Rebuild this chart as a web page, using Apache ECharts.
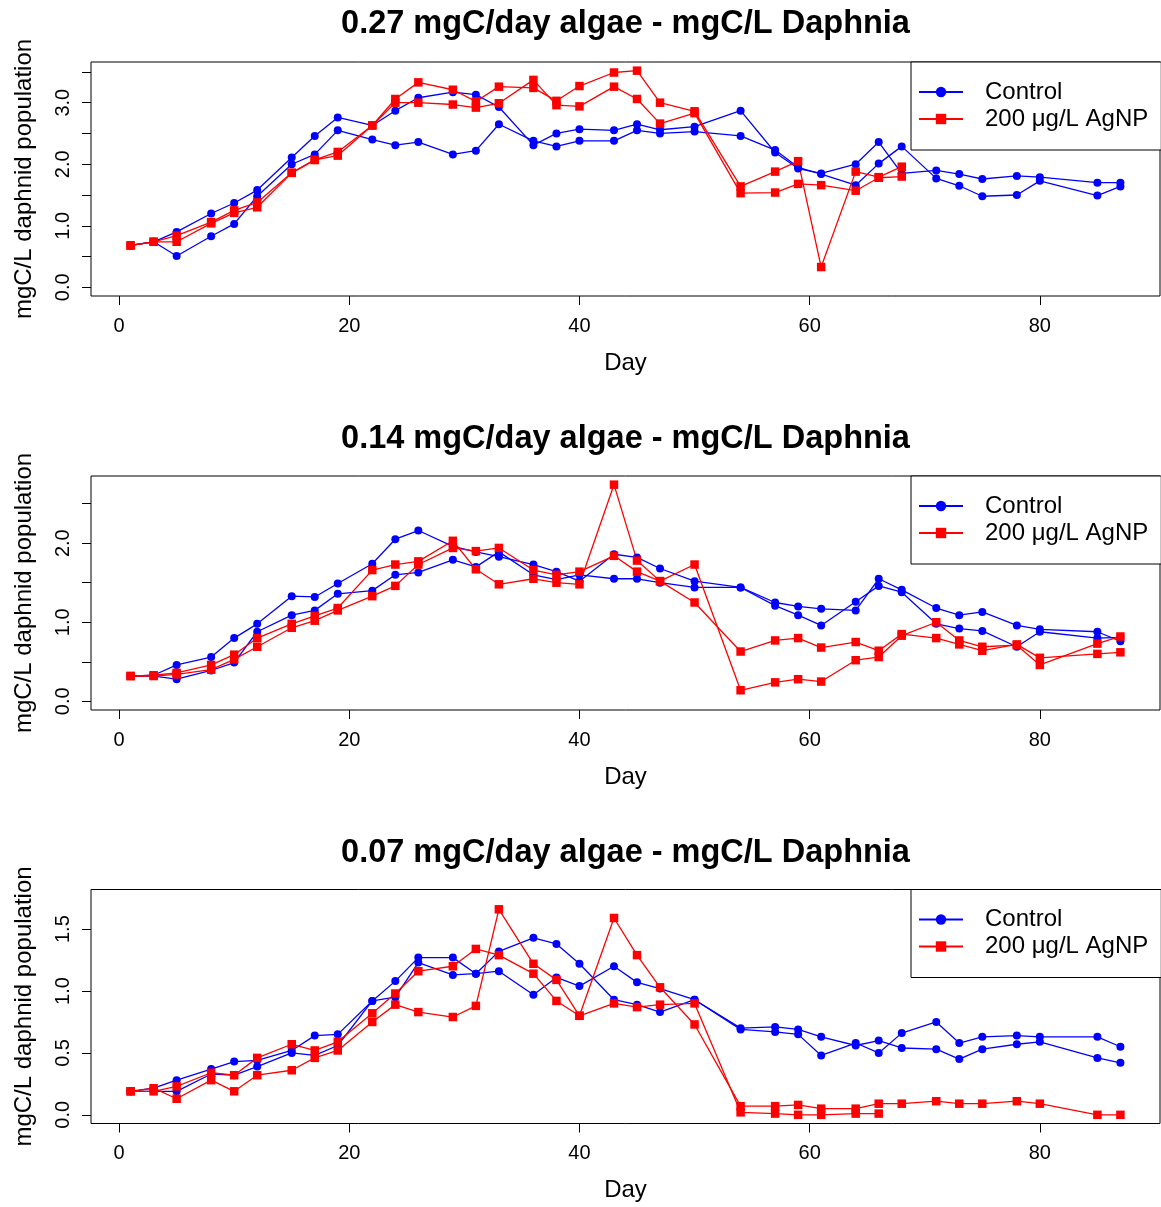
<!DOCTYPE html>
<html>
<head>
<meta charset="utf-8">
<script src="https://cdn.jsdelivr.net/npm/echarts@6/dist/echarts.min.js"></script>
<style>
  html, body { margin: 0; padding: 0; background: #fff; }
  #chart { width: 1161px; height: 1207px; }
</style>
</head>
<body>
<div id="chart"></div>
<script>
// Sampling days (experiment day)
const days = [1,3,5,8,10,12,15,17,19,22,24,26,29,31,33,36,38,40,43,45,47,50,54,57,59,61,64,66,68,71,73,75,78,80,85,87];

// 0.27 mgC/day algae — two replicate populations per treatment
const ctrl27a = [0.68,0.74,0.90,1.20,1.37,1.58,2.11,2.46,2.76,2.63,2.87,3.08,3.17,3.13,2.93,2.31,2.50,2.57,2.55,2.65,2.56,2.61,2.87,2.19,1.93,1.85,2.00,2.36,1.85,1.90,1.84,1.76,1.81,1.79,1.70,1.70];
const ctrl27b = [0.68,0.74,0.51,0.83,1.03,1.48,2.00,2.16,2.55,2.40,2.31,2.36,2.16,2.22,2.65,2.38,2.29,2.38,2.38,2.55,2.50,2.53,2.46,2.23,1.95,1.84,1.66,2.01,2.29,1.77,1.65,1.48,1.50,1.73,1.49,1.64];
const agnp27a = [0.68,0.74,0.84,1.06,1.25,1.38,1.86,2.07,2.20,2.63,3.06,3.33,3.21,3.02,3.26,3.24,3.03,3.27,3.49,3.52,3.00,2.86,1.64,1.88,2.05,0.33,1.88,1.79,1.96];
const agnp27b = [0.68,0.74,0.74,1.04,1.21,1.30,1.86,2.07,2.14,2.63,3.00,3.00,2.97,2.92,2.99,3.37,2.96,2.94,3.26,3.06,2.66,2.83,1.53,1.54,1.68,1.66,1.57,1.78,1.80];

// 0.14 mgC/day algae
const ctrl14a = [0.32,0.33,0.46,0.56,0.80,0.98,1.33,1.32,1.49,1.74,2.05,2.16,1.96,1.89,1.83,1.73,1.64,1.52,1.86,1.82,1.68,1.52,1.44,1.25,1.20,1.17,1.15,1.55,1.41,1.18,1.09,1.13,0.96,0.91,0.88,0.76];
const ctrl14b = [0.32,0.32,0.28,0.39,0.49,0.88,1.09,1.15,1.36,1.40,1.60,1.63,1.79,1.70,1.89,1.60,1.54,1.60,1.55,1.55,1.50,1.44,1.44,1.21,1.09,0.96,1.26,1.46,1.38,0.98,0.92,0.89,0.69,0.88,0.80,0.81];
const agnp14a = [0.32,0.33,0.36,0.46,0.59,0.80,0.98,1.08,1.18,1.66,1.73,1.77,2.03,1.67,1.48,1.55,1.50,1.48,2.74,1.78,1.52,1.73,0.14,0.24,0.28,0.25,0.52,0.56,0.83,1.00,0.77,0.69,0.71,0.46,0.73,0.82];
const agnp14b = [0.32,0.32,0.34,0.40,0.53,0.69,0.93,1.02,1.15,1.33,1.46,1.73,1.94,1.90,1.94,1.66,1.60,1.64,1.84,1.64,1.52,1.25,0.63,0.77,0.80,0.68,0.75,0.64,0.85,0.80,0.72,0.64,0.72,0.55,0.60,0.62];

// 0.07 mgC/day algae
const ctrl07a = [0.19,0.215,0.28,0.37,0.43,0.44,0.52,0.64,0.65,0.92,1.08,1.27,1.27,1.14,1.16,0.97,1.11,1.04,1.20,1.07,1.02,0.93,0.70,0.71,0.69,0.63,0.56,0.60,0.54,0.53,0.45,0.53,0.57,0.59,0.46,0.42];
const ctrl07b = [0.19,0.19,0.19,0.33,0.32,0.39,0.50,0.48,0.56,0.92,0.95,1.23,1.13,1.14,1.32,1.43,1.38,1.22,0.93,0.89,0.83,0.93,0.69,0.67,0.65,0.48,0.58,0.50,0.66,0.75,0.58,0.63,0.64,0.63,0.63,0.55];
const agnp07a = [0.19,0.215,0.13,0.28,0.19,0.32,0.36,0.46,0.52,0.75,0.89,0.83,0.79,0.88,1.66,1.22,1.09,0.80,1.59,1.29,1.03,0.73,0.07,0.07,0.08,0.05,0.05,0.09,0.09,0.11,0.09,0.09,0.11,0.09,0.00,0.00];
const agnp07b = [0.19,0.19,0.23,0.34,0.32,0.46,0.57,0.52,0.59,0.82,0.98,1.16,1.20,1.34,1.29,1.14,0.92,0.80,0.90,0.87,0.89,0.90,0.02,0.01,0.00,0.00,0.01,0.01];

// Panel titles, axis labels and tick values
const panelTitles = [
  '0.27 mgC/day algae - mgC/L Daphnia',
  '0.14 mgC/day algae - mgC/L Daphnia',
  '0.07 mgC/day algae - mgC/L Daphnia'
];
const xName = 'Day';
const yName = 'mgC/L daphnid population';
const legendNames = ['Control', '200 \u03bcg/L AgNP'];
const xTicks = [0, 20, 40, 60, 80];
const yTicks = [
  [0, 0.5, 1, 1.5, 2, 2.5, 3, 3.5],
  [0, 0.5, 1, 1.5, 2, 2.5],
  [0, 0.5, 1, 1.5]
];
const yTickLabels = [
  [0, 1, 2, 3],
  [0, 1, 2],
  [0, 0.5, 1, 1.5]
];
// Upper y limit of each panel (lower limit is zero), padded 4% like base graphics
const yUpper = [3.52, 2.74, 1.75];
const xLimits = [1, 87];

const panelData = [
  { ctrl: [ctrl27a, ctrl27b], agnp: [agnp27a, agnp27b] },
  { ctrl: [ctrl14a, ctrl14b], agnp: [agnp14a, agnp14b] },
  { ctrl: [ctrl07a, ctrl07b], agnp: [agnp07a, agnp07b] }
];

const FONT = '"Liberation Sans", Arial, Helvetica, sans-serif';
const BLUE = '#0000ff';
const RED = '#ff0000';

const gridLeft = 91, gridWidth = 1069, gridHeight = 234;
const gridTops = [62, 476, 889.5];
const titleY = [24, 439, 853];

const pad = v => [v[0] - 0.04 * (v[1] - v[0]), v[1] + 0.04 * (v[1] - v[0])];
const xr = pad(xLimits);

const pairs = vals => vals.map((v, i) => [days[i], v]);

const grid = [], xAxis = [], yAxis = [], series = [], legend = [], graphic = [];

panelData.forEach((p, i) => {
  const yr = pad([0, yUpper[i]]);
  grid.push({
    left: gridLeft, top: gridTops[i], width: gridWidth, height: gridHeight,
    show: true, borderColor: '#000', borderWidth: 1, backgroundColor: 'transparent'
  });
  xAxis.push({
    gridIndex: i, type: 'value', min: xr[0], max: xr[1], position: 'bottom',
    axisLine: { show: false, onZero: false }, splitLine: { show: false },
    axisTick: { show: true, customValues: xTicks, length: 9, lineStyle: { color: '#000', width: 1 } },
    axisLabel: { customValues: xTicks, fontSize: 20, color: '#000', fontFamily: FONT, margin: 20 },
    name: xName, nameLocation: 'middle', nameGap: 55,
    nameTextStyle: { fontSize: 24, color: '#000', fontFamily: FONT }
  });
  yAxis.push({
    gridIndex: i, type: 'value', min: yr[0], max: yr[1], position: 'left',
    axisLine: { show: false, onZero: false }, splitLine: { show: false },
    axisTick: { show: true, customValues: yTicks[i], length: 9, lineStyle: { color: '#000', width: 1 } },
    axisLabel: {
      customValues: yTickLabels[i], rotate: 90, fontSize: 20, color: '#000', fontFamily: FONT, margin: 18,
      formatter: v => Number(v).toFixed(1)
    },
    name: yName, nameLocation: 'middle', nameGap: 55, nameRotate: 90,
    nameTextStyle: { fontSize: 24, color: '#000', fontFamily: FONT }
  });
  p.ctrl.forEach(vals => series.push({
    type: 'line', name: legendNames[0], xAxisIndex: i, yAxisIndex: i,
    data: pairs(vals), symbol: 'circle', symbolSize: 8, showAllSymbol: true,
    color: BLUE, lineStyle: { color: BLUE, width: 1.3 }, itemStyle: { color: BLUE },
    emphasis: { disabled: true }, animation: false
  }));
  p.agnp.forEach(vals => series.push({
    type: 'line', name: legendNames[1], xAxisIndex: i, yAxisIndex: i,
    data: pairs(vals), symbol: 'rect', symbolSize: 8.5, showAllSymbol: true,
    color: RED, lineStyle: { color: RED, width: 1.3 }, itemStyle: { color: RED },
    emphasis: { disabled: true }, animation: false
  }));
  legend.push({
    data: legendNames, orient: 'vertical', left: 911, top: gridTops[i],
    itemWidth: 44, itemHeight: 13, itemGap: 3,
    padding: [18, 13, 19, 7], borderColor: '#000', borderWidth: 1, borderRadius: 0,
    backgroundColor: '#fff', selectedMode: false,
    textStyle: { fontSize: 24, lineHeight: 24, color: '#000', fontFamily: FONT, padding: [0, 0, 0, 17] }
  });
  graphic.push({
    type: 'text', x: gridLeft + gridWidth / 2, y: titleY[i],
    style: {
      text: panelTitles[i], fontSize: 32.5, fontWeight: 'bold', fontFamily: FONT,
      fill: '#000', align: 'center', verticalAlign: 'middle'
    }
  });
});

const chart = echarts.init(document.getElementById('chart'), null, { renderer: 'canvas' });
chart.setOption({
  backgroundColor: '#fff',
  animation: false,
  grid, xAxis, yAxis, series, legend, graphic
});
</script>
</body>
</html>
